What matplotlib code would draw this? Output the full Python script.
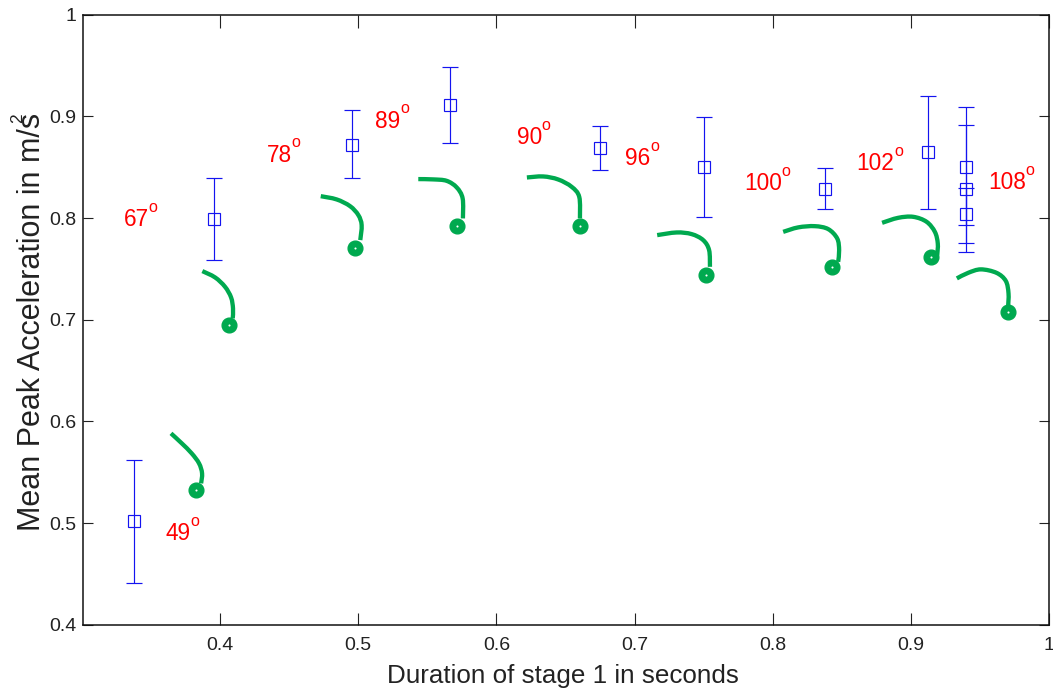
import matplotlib
matplotlib.use("Agg")
import matplotlib.pyplot as plt
from matplotlib.path import Path
from matplotlib.patches import PathPatch

plt.rcParams['font.family'] = ['Liberation Sans', 'DejaVu Sans']

# Blue error bars: duration, mean, upper end, lower end
dur = [0.3374, 0.3959, 0.4953, 0.5666, 0.675, 0.7502, 0.8378, 0.9121, 0.94, 0.94, 0.94]
mean = [0.5017, 0.799, 0.872, 0.9113, 0.869, 0.8503, 0.8287, 0.8648, 0.8503, 0.8284, 0.8035]
upper = [0.5622, 0.8395, 0.9064, 0.9487, 0.891, 0.8989, 0.8488, 0.9205, 0.9097, 0.8911, 0.8297]
lower = [0.4407, 0.7586, 0.8395, 0.874, 0.8474, 0.8006, 0.8085, 0.8085, 0.7927, 0.7662, 0.7756]

# Angle labels
angles = ['49', '67', '78', '89', '90', '96', '100', '102', '108']
angle_x = [0.3602, 0.3305, 0.4338, 0.5122, 0.6147, 0.6931, 0.7794, 0.8607, 0.9559]
angle_y = [0.4833, 0.792, 0.8553, 0.8887, 0.8724, 0.852, 0.8274, 0.8471, 0.8284]

# Green trajectories
curve_x = [
    [0.3645, 0.3723, 0.3795, 0.3848, 0.3870, 0.3863],
    [0.3872, 0.3964, 0.4036, 0.4080, 0.4094, 0.4092],
    [0.4729, 0.4844, 0.4941, 0.5001, 0.5025, 0.5015],
    [0.5435, 0.5543, 0.5640, 0.5713, 0.5756, 0.5758],
    [0.6221, 0.6339, 0.6448, 0.6545, 0.6600, 0.6605],
    [0.7164, 0.7305, 0.7413, 0.7497, 0.7540, 0.7546],
    [0.8076, 0.8185, 0.8305, 0.8402, 0.8467, 0.8481, 0.8474],
    [0.8792, 0.8908, 0.9017, 0.9114, 0.9174, 0.9195, 0.9191],
    [0.9333, 0.9415, 0.9507, 0.9620, 0.9687, 0.9707, 0.9704],
]
curve_y = [
    [0.5882, 0.5784, 0.5685, 0.5587, 0.5489, 0.5390],
    [0.7478, 0.7416, 0.7324, 0.7219, 0.7111, 0.7013],
    [0.8215, 0.8183, 0.8117, 0.8029, 0.7930, 0.7783],
    [0.8383, 0.8380, 0.8366, 0.8301, 0.8193, 0.7996],
    [0.8399, 0.8409, 0.8379, 0.8307, 0.8208, 0.7996],
    [0.7832, 0.7858, 0.7842, 0.7783, 0.7684, 0.7520],
    [0.7864, 0.7908, 0.7920, 0.7891, 0.7799, 0.7684, 0.7569],
    [0.7953, 0.8002, 0.8012, 0.7963, 0.7864, 0.7750, 0.7635],
    [0.7406, 0.7461, 0.7495, 0.7461, 0.7382, 0.7259, 0.7127],
]
dot_x = [0.3824, 0.4067, 0.4975, 0.5713, 0.6605, 0.7519, 0.8428, 0.9143, 0.9702]
dot_y = [0.5322, 0.6950, 0.7707, 0.7917, 0.7917, 0.7441, 0.7514, 0.7619, 0.7072]

x_ticks = [0.4, 0.5, 0.6, 0.7, 0.8, 0.9, 1.0]
x_labels = ['0.4', '0.5', '0.6', '0.7', '0.8', '0.9', '1']
y_ticks = [0.4, 0.5, 0.6, 0.7, 0.8, 0.9, 1.0]
y_labels = ['0.4', '0.5', '0.6', '0.7', '0.8', '0.9', '1']


def smooth_path(xs, ys):
    """Path through the read points, drawn with Bezier segments."""
    pts = list(zip(xs, ys))
    verts = [pts[0]]
    codes = [Path.MOVETO]
    n = len(pts)
    for i in range(n - 1):
        p0 = pts[max(i - 1, 0)]
        p1 = pts[i]
        p2 = pts[i + 1]
        p3 = pts[min(i + 2, n - 1)]
        c1 = (p1[0] + (p2[0] - p0[0]) / 6, p1[1] + (p2[1] - p0[1]) / 6)
        c2 = (p2[0] - (p3[0] - p1[0]) / 6, p2[1] - (p3[1] - p1[1]) / 6)
        verts += [c1, c2, p2]
        codes += [Path.CURVE4] * 3
    return Path(verts, codes)


W, H = 1053, 693
fig = plt.figure(figsize=(W / 100, H / 100), dpi=100)
ax = fig.add_axes([82.7 / W, 1 - 624.7 / H, (1049 - 82.7) / W, (624.7 - 14.7) / H])
ax.set_xlim(0.3006, 1.0)
ax.set_ylim(0.4, 1.0)

GREEN = '#00A94F'
BLUE = '#1414F0'

for xs, ys in zip(curve_x, curve_y):
    ax.add_patch(PathPatch(smooth_path(xs, ys), fc='none', ec=GREEN, lw=3.1,
                           capstyle='butt', joinstyle='round', zorder=2))
ax.plot(dot_x, dot_y, ls='none', marker='o', ms=10.6, mfc=GREEN, mec=GREEN, mew=1, zorder=3)
ax.plot(dot_x, dot_y, ls='none', marker='o', ms=1.5, mfc='white', mec='none', zorder=4)

yerr = [[m - l for m, l in zip(mean, lower)], [u - m for m, u in zip(mean, upper)]]
ax.errorbar(dur, mean, yerr=yerr, fmt='none', ecolor=BLUE, elinewidth=0.85,
            capsize=5.8, capthick=0.85, zorder=5)
ax.plot(dur, mean, ls='none', marker='s', ms=8.0, mfc='none', mec=BLUE, mew=0.85, zorder=6)

for a, x, y in zip(angles, angle_x, angle_y):
    t = ax.text(x, y, a, color='#FF0000', fontsize=16.3, ha='left', va='baseline', zorder=7)
    ax.annotate('o', xy=(1, 1), xycoords=t, xytext=(-0.2, -2.6), textcoords='offset points',
                color='#FF0000', fontsize=11.5, ha='left', va='baseline', zorder=7)

ax.set_xticks(x_ticks, x_labels)
ax.set_yticks(y_ticks, y_labels)
ax.tick_params(axis='x', direction='in', length=9, width=0.8, top=True, bottom=True,
               labelsize=14, pad=8.5, color='#222222', labelcolor='#222222')
ax.tick_params(axis='y', direction='in', length=7, width=0.8, left=True, right=True,
               labelsize=14, pad=4.5, color='#222222', labelcolor='#222222')
for s in ax.spines.values():
    s.set_linewidth(1.1)
    s.set_color('#111111')

fig.text(563 / W, 1 - 676 / H, 'Duration of stage 1 in seconds', fontsize=18.7, ha='center',
         va='center', color='#222222')
fig.text(32 / W, 1 - 322 / H, 'Mean Peak Acceleration in m/s', fontsize=22, rotation=90,
         ha='center', va='center', color='#222222')
fig.text(18 / W, 1 - 118 / H, '2', fontsize=12.5, rotation=90, ha='center', va='center', color='#222222')

fig.savefig('out.png', dpi=100)
